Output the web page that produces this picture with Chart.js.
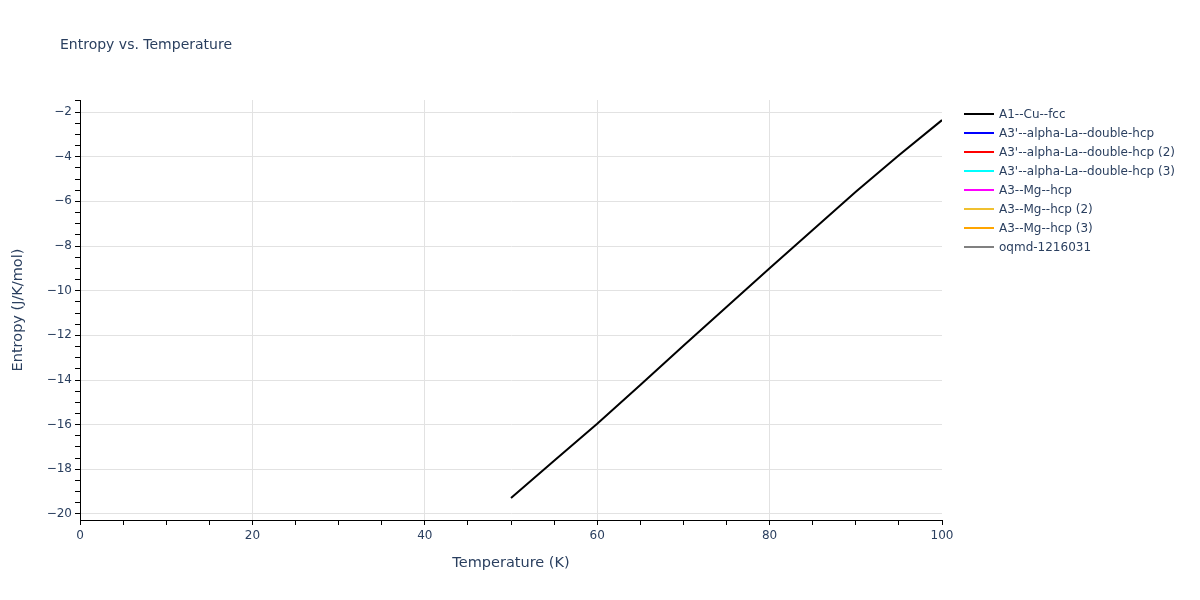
<!DOCTYPE html>
<html lang="en">
<head>
    <meta charset="UTF-8">
    <title>Entropy vs. Temperature</title>
    <script src="https://cdn.jsdelivr.net/npm/chart.js"></script>
    <style>
        body {
            margin: 0;
            font-family: "DejaVu Sans", Verdana, sans-serif;
            background: #fff;
        }
        .wrap {
            position: relative;
            width: 1200px;
            height: 600px;
        }
        #chartTitle {
            position: absolute;
            left: 60px;
            top: 36px;
            font-size: 14px;
            color: #2a3f5f;
            white-space: nowrap;
        }
        #legend {
            position: absolute;
            left: 964px;
            top: 104px;
            font-size: 12px;
            color: #2a3f5f;
        }
        .item {
            height: 19px;
            display: flex;
            align-items: center;
            white-space: nowrap;
        }
        .swatch {
            width: 30px;
            height: 2px;
            margin-right: 5px;
        }
    </style>
</head>
<body>
    <div class="wrap">
        <canvas id="entropyChart" width="1200" height="600"></canvas>
        <div id="chartTitle">Entropy vs. Temperature</div>
        <div id="legend"></div>
    </div>

    <script>
        // values
        const temperature = [50, 55, 60, 65, 70, 75, 80, 85, 90, 95, 100];
        const entropyCuFcc = [-19.28, -17.62, -15.96, -14.22, -12.47, -10.73, -9.00, -7.28, -5.57, -3.93, -2.36];

        const seriesNames = [
            'A1--Cu--fcc',
            "A3'--alpha-La--double-hcp",
            "A3'--alpha-La--double-hcp (2)",
            "A3'--alpha-La--double-hcp (3)",
            'A3--Mg--hcp',
            'A3--Mg--hcp (2)',
            'A3--Mg--hcp (3)',
            'oqmd-1216031'
        ];
        const seriesColors = ['#000000', '#0000ff', '#ff0000', '#00ffff', '#ff00ff', '#f0c030', '#ffa500', '#808080'];
        // only the first series has points inside the plotted range
        const seriesValues = [entropyCuFcc, [], [], [], [], [], [], []];

        const xTicks = [];
        for (let v = 0; v <= 100; v += 5) xTicks.push(v);
        const yTicks = [];
        for (let v = -20; v <= -1.5; v += 0.5) yTicks.push(v);

        const textColor = '#2a3f5f';
        const gridColor = '#e2e2e2';
        const fontFamily = '"DejaVu Sans", Verdana, sans-serif';

        const datasets = seriesNames.map((name, i) => ({
            label: name,
            data: seriesValues[i].map((y, j) => ({ x: temperature[j], y: y })),
            borderColor: seriesColors[i],
            backgroundColor: seriesColors[i],
            borderWidth: 2,
            pointRadius: 0,
            fill: false,
            tension: 0
        }));

        new Chart(document.getElementById('entropyChart'), {
            type: 'line',
            data: { datasets: datasets },
            options: {
                responsive: false,
                animation: false,
                layout: { padding: { top: 100, right: 258, bottom: 0, left: 0 } },
                plugins: {
                    legend: { display: false },
                    tooltip: { enabled: false }
                },
                scales: {
                    x: {
                        type: 'linear',
                        min: 0,
                        max: 100,
                        afterBuildTicks: scale => { scale.ticks = xTicks.map(v => ({ value: v })); },
                        afterFit: scale => { scale.height = 80; },
                        ticks: {
                            autoSkip: false,
                            maxRotation: 0,
                            padding: 4,
                            color: textColor,
                            font: { family: fontFamily, size: 12 },
                            callback: v => (v % 20 === 0 ? String(v) : '')
                        },
                        grid: {
                            color: ctx => (ctx.tick && ctx.tick.value % 20 === 0 && ctx.tick.value > 0 && ctx.tick.value < 100 ? gridColor : 'rgba(0,0,0,0)'),
                            tickColor: '#000',
                            tickLength: 5
                        },
                        border: { display: true, color: '#000', width: 1 },
                        title: {
                            display: true,
                            text: 'Temperature (K)',
                            color: textColor,
                            font: { family: fontFamily, size: 14.5 },
                            padding: { top: 0, bottom: 28 }
                        }
                    },
                    y: {
                        type: 'linear',
                        min: -20.27,
                        max: -1.46,
                        afterBuildTicks: scale => { scale.ticks = yTicks.map(v => ({ value: v })); },
                        afterFit: scale => { scale.width = 80; },
                        ticks: {
                            autoSkip: false,
                            padding: 3,
                            color: textColor,
                            font: { family: fontFamily, size: 12 },
                            callback: v => (v % 2 === 0 ? '\u2212' + Math.abs(v) : '')
                        },
                        grid: {
                            color: ctx => (ctx.tick && ctx.tick.value % 2 === 0 ? gridColor : 'rgba(0,0,0,0)'),
                            tickColor: '#000',
                            tickLength: 5
                        },
                        border: { display: true, color: '#000', width: 1 },
                        title: {
                            display: true,
                            text: 'Entropy (J/K/mol)',
                            color: textColor,
                            font: { family: fontFamily, size: 14.5 },
                            padding: { top: 10, bottom: 0 }
                        }
                    }
                }
            }
        });

        // legend built from the same series arrays
        const legend = document.getElementById('legend');
        seriesNames.forEach((name, i) => {
            const row = document.createElement('div');
            row.className = 'item';
            row.innerHTML = `<span class="swatch" style="background:${seriesColors[i]}"></span><span>${name}</span>`;
            legend.appendChild(row);
        });
    </script>
</body>
</html>
